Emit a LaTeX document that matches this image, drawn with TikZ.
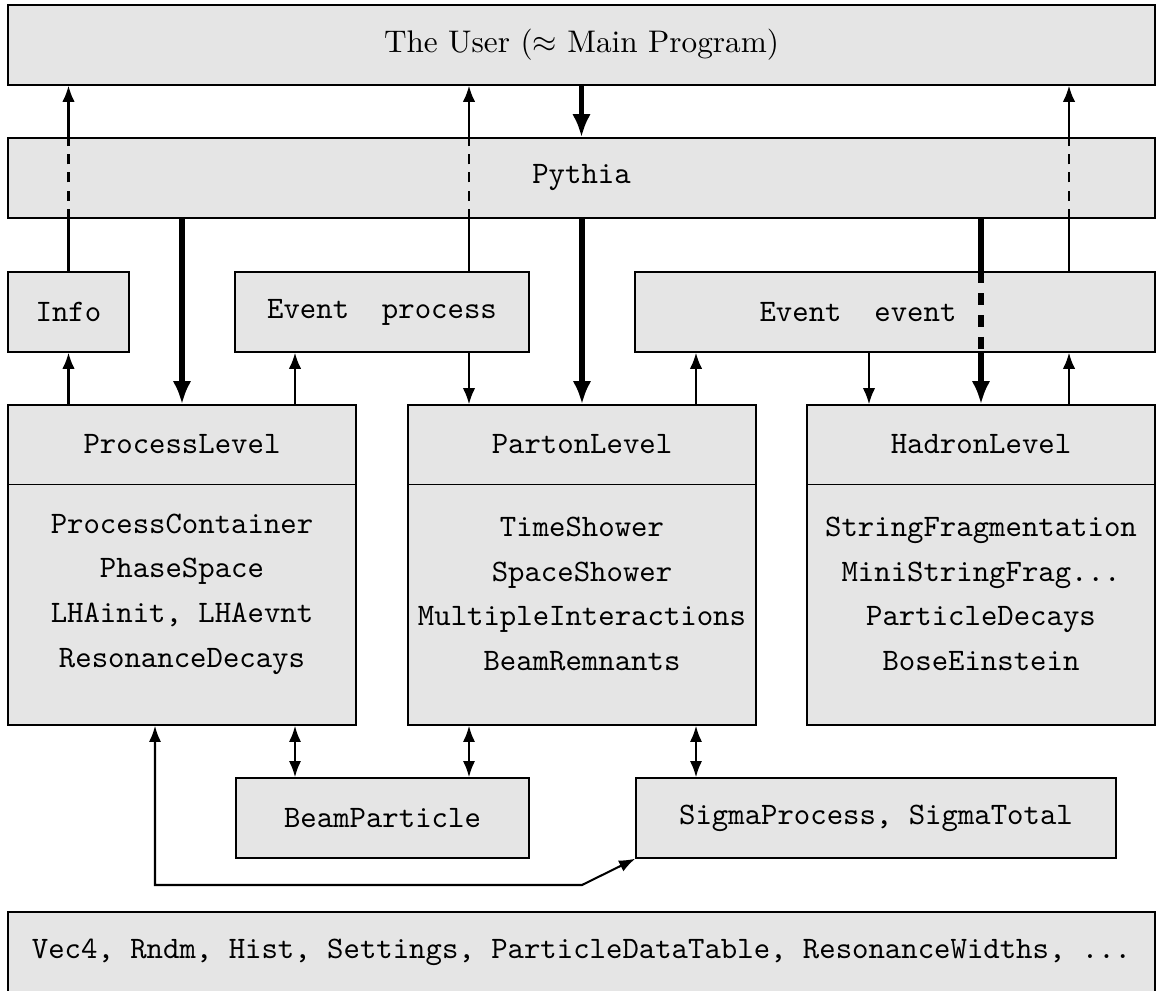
\documentclass[tikz,border=0pt]{standalone}
\usepackage{amsmath}
\usepackage{tikz}
\usetikzlibrary{arrows.meta}

\begin{document}
\begin{tikzpicture}[x=0.32pt, y=-0.32pt,
		caixa/.style={draw, fill=gray!20, line width=0.45pt, inner sep=0pt, font=\ttfamily},
		tam/.style 2 args={minimum width=#1*0.32pt, minimum height=#2*0.32pt},
		lista/.style={font=\ttfamily, align=center, inner sep=0pt},
		linha/.style={line width=0.65pt},
		fina/.style={line width=0.65pt, -{Latex[length=5.2pt,width=4pt]}},
		dupla/.style={line width=0.65pt, {Latex[length=5.2pt,width=3.9pt]}-{Latex[length=5.2pt,width=3.9pt]}},
		grossa/.style={line width=1.7pt, -{Latex[length=7.4pt,width=5.9pt]}},
		tracejada/.style={dash pattern=on 3.2pt off 2.6pt}]
				\useasboundingbox (0,0) rectangle (1156,991);
				
				% Caixas de cima
				\node[caixa, font=\rmfamily, tam={1147}{80}] (user) at (581.5,45) {The User ($\approx$ Main Program)};
				\node[caixa, tam={1147}{80}] (pythia) at (581.5,178) {Pythia};
				
				% Eventos e info
				\node[caixa, tam={121}{80}] (info) at (68.5,312) {Info};
				\node[caixa, tam={294}{80}] (evproc) at (382,312) {Event\ \ process};
				\node[caixa, tam={520}{80}] (evevt) at (895,312) {};
				\node[font=\ttfamily] (evevtlbl) at (858,312) {Event\ \ event};
				
				% Os tres niveis
				\node[caixa, tam={348}{320}] (procniv) at (182,565) {};
				\node[caixa, tam={348}{320}] (partniv) at (582,565) {};
				\node[caixa, tam={348}{320}] (hadrniv) at (981,565) {};
				\foreach \n/\t in {procniv/ProcessLevel, partniv/PartonLevel, hadrniv/HadronLevel} {
					\draw[line width=0.45pt] ([yshift=-25.6pt]\n.north west) -- ([yshift=-25.6pt]\n.north east);
					\node[font=\ttfamily] (\n-tit) at ([yshift=-12.8pt]\n.north) {\t};
				}
				\node[lista] (proclista) at (182,594) {ProcessContainer\\[2.3pt] PhaseSpace\\[2.3pt] LHAinit, LHAevnt\\[2.3pt] ResonanceDecays};
				\node[lista] (partlista) at (582,594) {TimeShower\\[2.3pt] SpaceShower\\[2.3pt] MultipleInteractions\\[2.3pt] BeamRemnants};
				\node[lista] (hadrlista) at (981,594) {StringFragmentation\\[2.3pt] MiniStringFrag...\\[2.3pt] ParticleDecays\\[2.3pt] BoseEinstein};
				
				% Caixas de baixo
				\node[caixa, tam={293}{80}] (beam) at (382.5,818) {BeamParticle};
				\node[caixa, tam={480}{80}] (sigma) at (876,818) {SigmaProcess, SigmaTotal};
				\node[caixa, tam={1147}{80}] (util) at (581.5,952) {Vec4, Rndm, Hist, Settings, ParticleDataTable, ResonanceWidths, ...};
				
				% Colunas das setas
				\coordinate (pe) at (295,0);
				\coordinate (ep) at (469,0);
				\coordinate (pv) at (696,0);
				\coordinate (vh) at (869,0);
				\coordinate (hv) at (1069,0);
				\coordinate (rs) at (155,0);
				\coordinate (dobra) at (582,885);
				
				% Setas grossas (controle)
				\draw[grossa] (user.south) -- (pythia.north);
				\draw[grossa] (procniv.north |- pythia.south) -- (procniv.north);
				\draw[grossa] (partniv.north |- pythia.south) -- (partniv.north);
				\draw[line width=1.7pt] (hadrniv.north |- pythia.south) -- (hadrniv.north |- evevt.north);
				\draw[line width=1.7pt, dash pattern=on 3.8pt off 3.2pt] (hadrniv.north |- evevt.north) -- (hadrniv.north |- evevt.south);
				\draw[grossa] (hadrniv.north |- evevt.south) -- (hadrniv.north);
				
				% Retorno ao usuario, tracejado dentro do Pythia
				\foreach \c/\s in {info/info, ep/evproc, hv/evevt} {
					\draw[linha] (\c |- \s.north) -- (\c |- pythia.south);
					\draw[linha, tracejada] (\c |- pythia.south) -- (\c |- pythia.north);
					\draw[fina] (\c |- pythia.north) -- (\c |- user.south);
				}
				
				% Fluxo dos eventos
				\draw[fina] (info |- procniv.north) -- (info.south);
				\draw[fina] (pe |- procniv.north) -- (pe |- evproc.south);
				\draw[fina] (ep |- evproc.south) -- (ep |- partniv.north);
				\draw[fina] (pv |- partniv.north) -- (pv |- evevt.south);
				\draw[fina] (vh |- evevt.south) -- (vh |- hadrniv.north);
				\draw[fina] (hv |- hadrniv.north) -- (hv |- evevt.south);
				
				% Setas duplas
				\draw[dupla] (pe |- procniv.south) -- (pe |- beam.north);
				\draw[dupla] (ep |- partniv.south) -- (ep |- beam.north);
				\draw[dupla] (pv |- partniv.south) -- (pv |- sigma.north);
				\draw[dupla] (rs |- procniv.south) -- (rs |- dobra) -- (dobra) -- (sigma.south west);
			\end{tikzpicture}
\end{document}
